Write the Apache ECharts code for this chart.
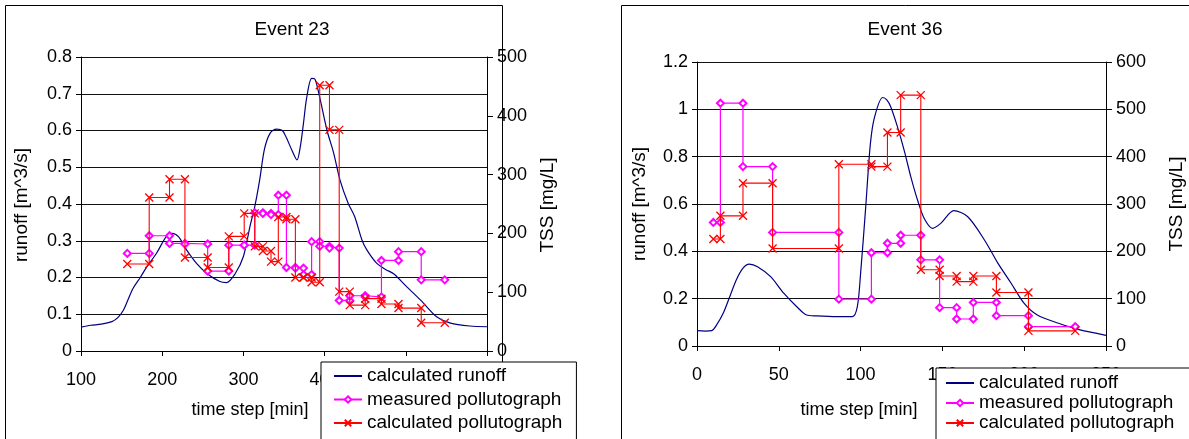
<!DOCTYPE html>
<html>
<head>
<meta charset="utf-8">
<script src="https://cdn.jsdelivr.net/npm/echarts@6/dist/echarts.min.js"></script>
<style>
html,body{margin:0;padding:0;background:#fff;}
#c{width:1189px;height:439px;}
</style>
</head>
<body>
<div id="c"></div>
<script>
// ---------- Event 23 ----------
const runoff23T = [100,112,125,138,145,152,158,164,173,181,193,205,212,220,230,242,255,271,279,290,300,308,314,320,326,333,341,348,353,360,366,370,374,378,384,388,394,403,411,419,429,437,446,452,464,475,485,501,518,538,555,579,600];
const runoff23V = [0.065,0.07,0.073,0.08,0.09,0.11,0.14,0.17,0.20,0.229,0.266,0.311,0.32,0.311,0.275,0.239,0.211,0.189,0.186,0.211,0.257,0.338,0.393,0.465,0.55,0.593,0.604,0.60,0.58,0.545,0.52,0.555,0.62,0.69,0.742,0.74,0.69,0.60,0.54,0.465,0.402,0.366,0.302,0.275,0.239,0.222,0.21,0.175,0.139,0.093,0.076,0.068,0.066];
const step23T = [157,184,209,228,256,282,301,314,324,334,343,353,364,374,384,394,406,418,431,450,470,491,519,548];
const meas23 = [166,196,183,182,136,180,180,235,234,232,265,142,141,130,186,178,175,86,94,92,154,169,121];
const calc23 = [148,261,292,159,142,195,234,178,170,152,228,224,125,125,117,452,376,101,78,89,80,73,48];

// ---------- Event 36 ----------
const runoff36T = [0,5,9,12,16,20,24,28,32,37,45,53,61,67,73,86,95,98,100,103,106,108.6,113.5,116,118.4,122.5,126.6,130.7,134.8,138.9,144,149,157,165.5,175.7,184,192,200,208,221,233,250];
const runoff36V = [0.065,0.063,0.065,0.089,0.138,0.208,0.279,0.328,0.346,0.335,0.293,0.223,0.166,0.131,0.127,0.124,0.124,0.166,0.307,0.575,0.856,0.969,1.05,1.04,1.011,0.927,0.828,0.715,0.617,0.539,0.497,0.518,0.572,0.546,0.448,0.349,0.265,0.18,0.131,0.096,0.07,0.045];
const step36T = [10,14.3,28.1,46.2,86.7,106.6,116.4,124.5,136.8,148.3,158.7,168.9,183,202.6,231.2];
const meas36 = [261,513,379,240,99,197,217,234,182,81,57,92,64,41];
const calc36 = [226,275,344,206,384,379,451,530,161,148,136,148,113,32];

const legendNames = ['calculated runoff','measured pollutograph','calculated pollutograph'];
const titles = ['Event 23','Event 36'];
const yNameL = 'runoff [m^3/s]';
const yNameR = 'TSS [mg/L]';
const xName = 'time step [min]';

function zip(t, v){ return t.map((x,i)=>[x, v[i]]); }
function steps(t, v){
  const pts = [];
  for (let i=0;i<v.length;i++){ pts.push([t[i], v[i]]); pts.push([t[i+1], v[i]]); }
  return pts;
}

const FONT = 'Liberation Sans, Arial, sans-serif';
const XSYM = 'path://M0,0L10,10M10,0L0,10';

function xAxis(gi, min, max, interval){
  return {
    type:'value', gridIndex:gi, min:min, max:max, interval:interval,
    axisLine:{show:true, onZero:false, lineStyle:{color:'#000', width:1}},
    axisTick:{show:true, length:5, lineStyle:{color:'#000'}},
    axisLabel:{margin:20, color:'#000', fontSize:18, fontFamily:FONT},
    splitLine:{show:false}
  };
}
function yAxisL(gi, max, interval){
  return {
    type:'value', gridIndex:gi, position:'left', min:0, max:max, interval:interval,
    axisLine:{show:true, onZero:false, lineStyle:{color:'#000', width:1}},
    axisTick:{show:true, length:5, lineStyle:{color:'#000'}},
    axisLabel:{margin:9, color:'#000', fontSize:18, fontFamily:FONT},
    splitLine:{show:true, lineStyle:{color:'#111', width:1}}
  };
}
function yAxisR(gi, max, interval){
  return {
    type:'value', gridIndex:gi, position:'right', min:0, max:max, interval:interval,
    axisLine:{show:true, onZero:false, lineStyle:{color:'#000', width:1}},
    axisTick:{show:true, length:6, lineStyle:{color:'#000'}},
    axisLabel:{margin:10, color:'#000', fontSize:18, fontFamily:FONT},
    splitLine:{show:false}
  };
}
function seriesSet(xi, yl, yr, rT, rV, sT, meas, calc){
  return [
    {name:legendNames[0], type:'line', xAxisIndex:xi, yAxisIndex:yl, data:zip(rT,rV),
     showSymbol:false, symbol:'none', smooth:0.3, lineStyle:{color:'#000080', width:1.2}, itemStyle:{color:'#000080'}, z:2},
    {name:legendNames[1], type:'line', xAxisIndex:xi, yAxisIndex:yr, data:steps(sT,meas),
     symbol:'emptyDiamond', symbolSize:7, lineStyle:{color:'#ff00ff', width:1.2},
     itemStyle:{color:'#ff00ff', borderColor:'#ff00ff', borderWidth:1.1}, z:3},
    {name:legendNames[2], type:'line', xAxisIndex:xi, yAxisIndex:yr, data:steps(sT,calc),
     symbol:XSYM, symbolSize:8, lineStyle:{color:'#ff0000', width:1.1},
     itemStyle:{color:'#ff0000', borderColor:'#ff0000', borderWidth:1.3}, z:4}
  ];
}
function txt(x, y, s, rot, size){
  return {type:'text', x:x, y:y, rotation:rot||0, z:10,
    style:{text:s, align:'center', verticalAlign:'middle', font:(size||18)+'px '+FONT, fill:'#000'}};
}
function legendData(){
  return [
    {name:legendNames[0], itemStyle:{opacity:0, color:'rgba(0,0,0,0)', borderColor:'rgba(0,0,0,0)'}},
    {name:legendNames[1]},
    {name:legendNames[2]}
  ];
}
function legend(left, top, padding, gap){
  return {data:legendData(), orient:'vertical', left:left, top:top, height:150, padding:padding, itemGap:gap,
    itemWidth:28, itemHeight:8, backgroundColor:'#fff', borderColor:'#000', borderWidth:1, borderRadius:0,
    textStyle:{fontSize:19, lineHeight:20, color:'#000', fontFamily:FONT}, selectedMode:false};
}

const chart = echarts.init(document.getElementById('c'), null, {renderer:'canvas'});
chart.setOption({
  animation:false,
  backgroundColor:'#fff',
  grid:[
    {left:81, top:57, width:406, height:294},
    {left:697, top:62, width:409, height:284}
  ],
  xAxis:[ xAxis(0,100,600,100), xAxis(1,0,250,50) ],
  yAxis:[ yAxisL(0,0.8,0.1), yAxisR(0,500,100), yAxisL(1,1.2,0.2), yAxisR(1,600,100) ],
  legend:[
    legend(321, 362, [4,14,10,12], 3.5),
    legend(936, 368, [5,30,10,9], 0)
  ],
  graphic:[
    {type:'rect', shape:{x:5.5, y:5.5, width:497, height:460}, style:{fill:null, stroke:'#000', lineWidth:1}, z:-1, silent:true},
    {type:'rect', shape:{x:621.5, y:5.5, width:600, height:460}, style:{fill:null, stroke:'#000', lineWidth:1}, z:-1, silent:true},
    txt(292, 30, titles[0], 0, 19),
    txt(905, 30, titles[1], 0, 19),
    txt(22, 205, yNameL, Math.PI/2, 19),
    txt(548, 205, yNameR, Math.PI/2, 19),
    txt(640, 204, yNameL, Math.PI/2, 19),
    txt(1177, 204, yNameR, Math.PI/2, 19),
    txt(250, 410, xName, 0, 18),
    txt(859, 410, xName, 0, 18)
  ],
  series:[].concat(
    seriesSet(0,0,1,runoff23T,runoff23V,step23T,meas23,calc23),
    seriesSet(1,2,3,runoff36T,runoff36V,step36T,meas36,calc36)
  )
});
</script>
</body>
</html>
